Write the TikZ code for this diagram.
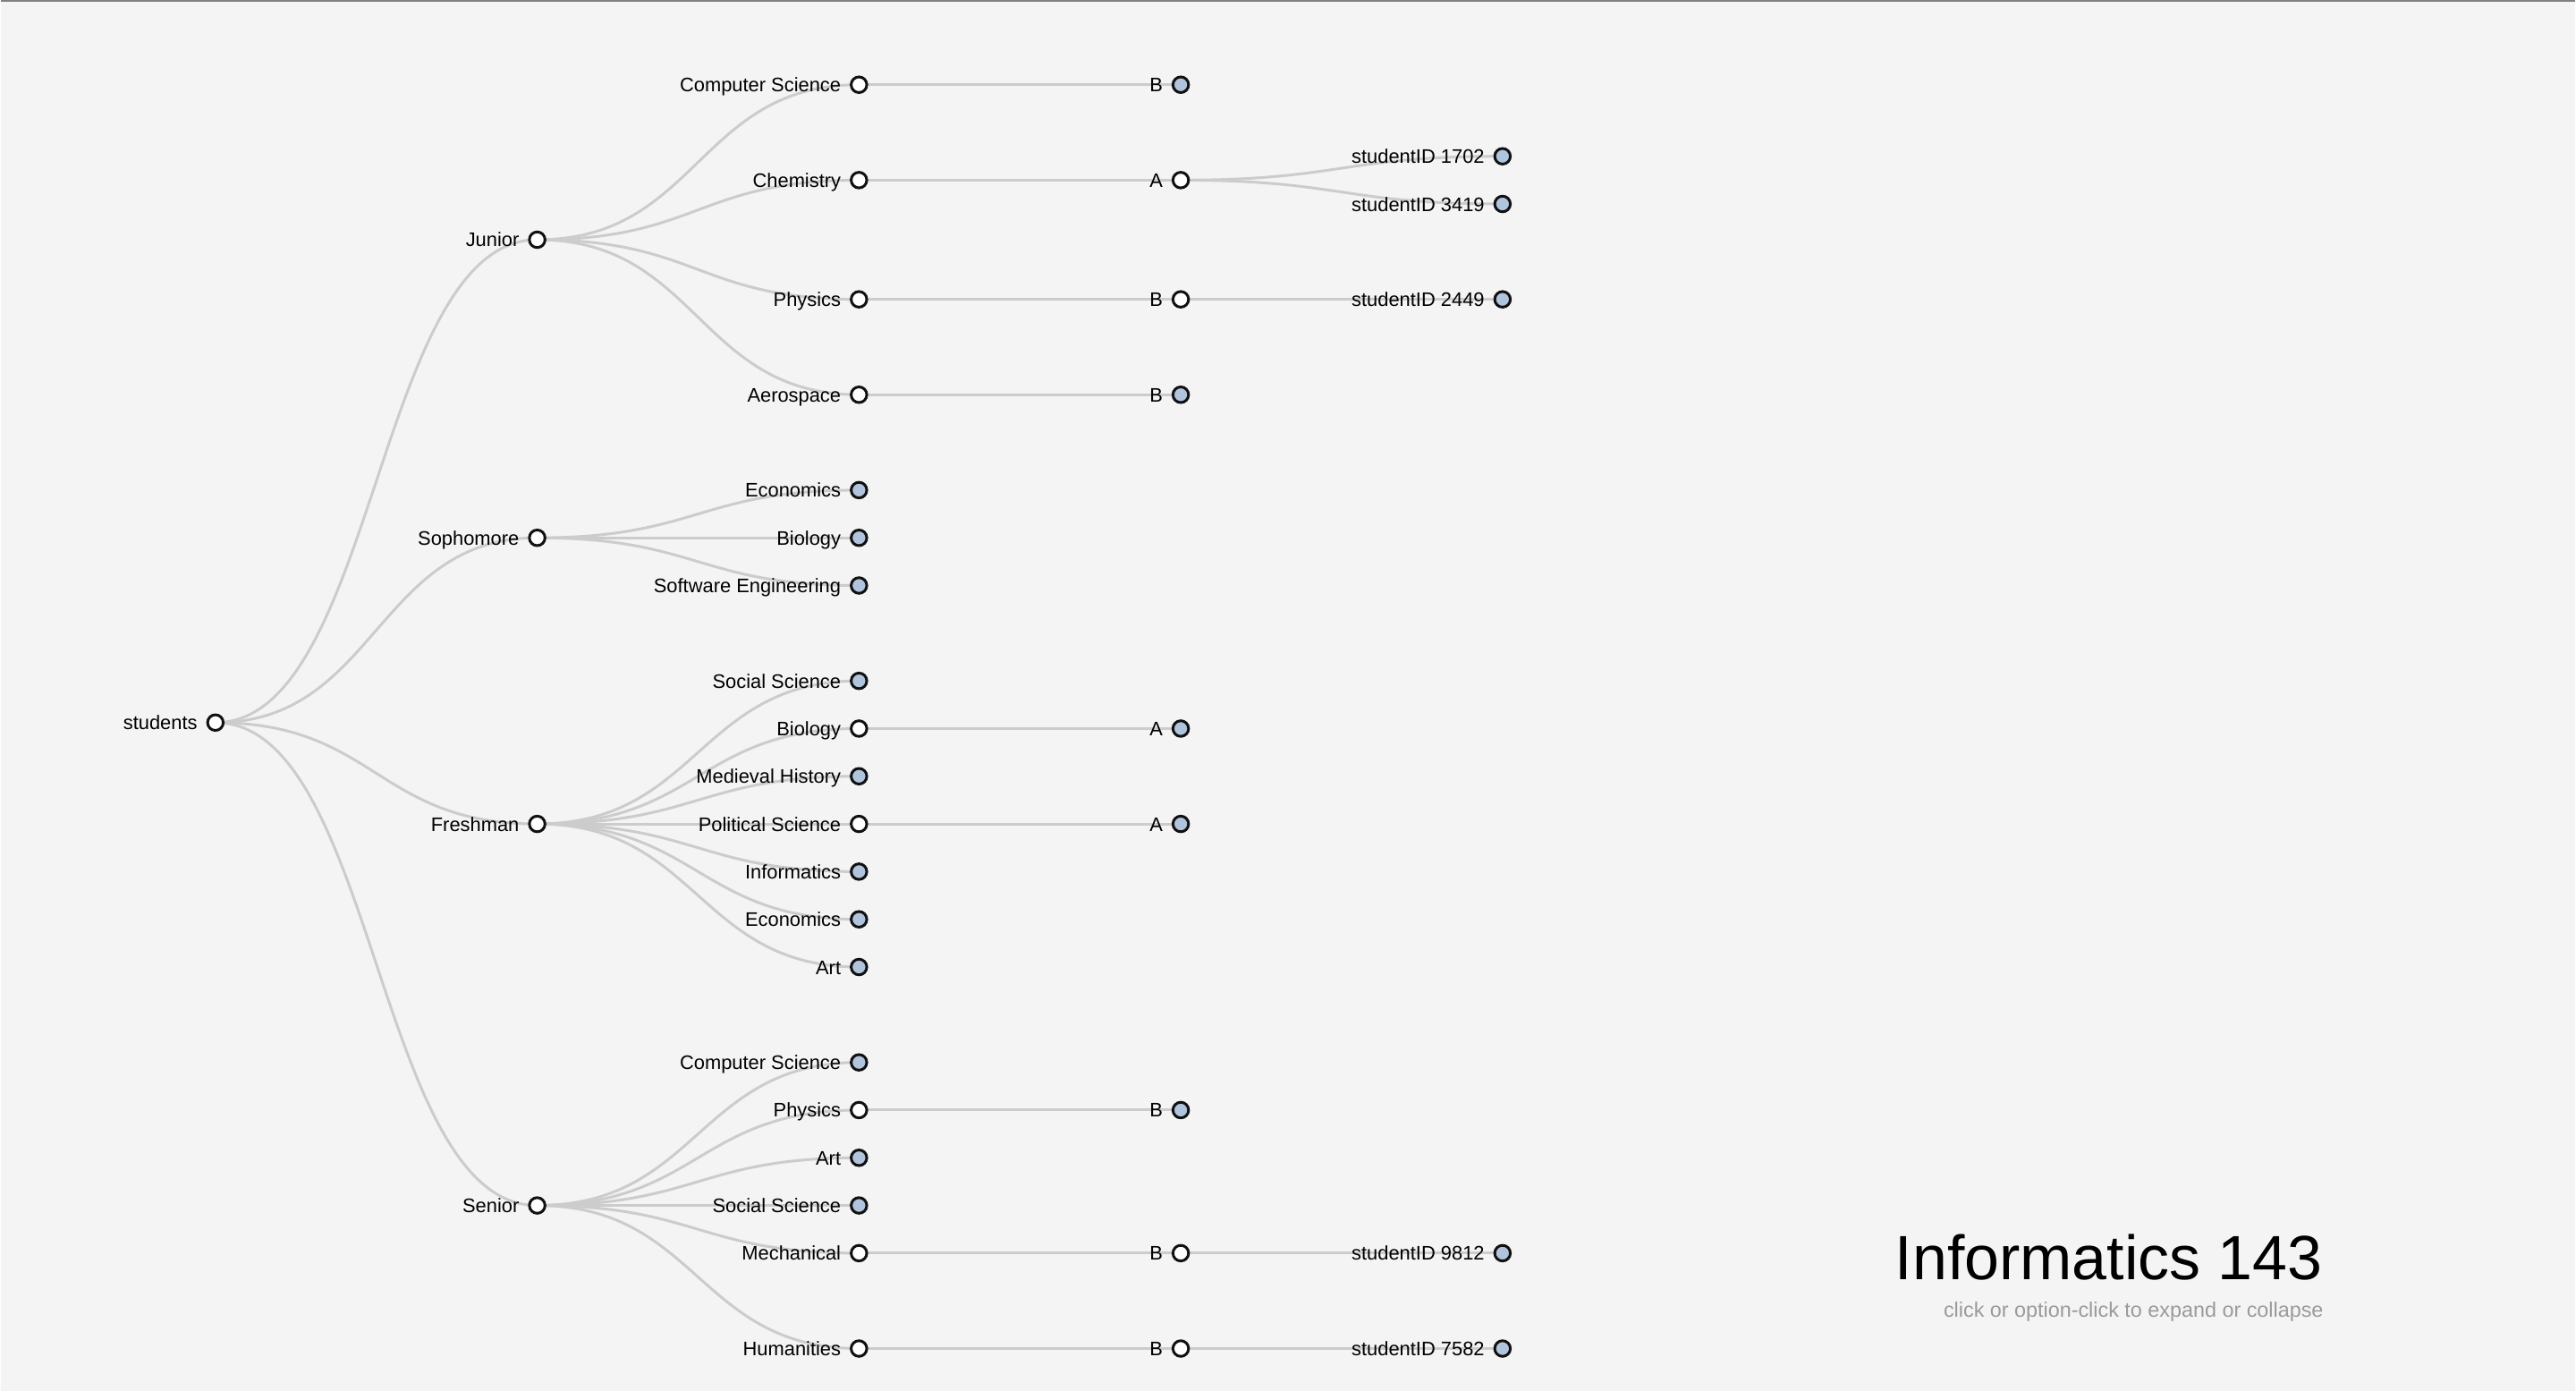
\documentclass[tikz,border=0pt]{standalone}
\usepackage{fontspec}
\setmainfont{Liberation Sans}
\usetikzlibrary{positioning}
\definecolor{paper}{HTML}{F4F4F4}
\definecolor{linkgray}{HTML}{CCCCCC}
\definecolor{leafblue}{HTML}{B0C4DE}
\definecolor{ringline}{HTML}{111111}
\definecolor{hintgray}{HTML}{9A9A9A}
\pgfdeclarelayer{back}
\pgfdeclarelayer{edges}
\pgfsetlayers{back,edges,main}
\tikzset{
  nd/.style={circle,draw=ringline,fill=white,line width=0.03cm,minimum size=0.175cm,inner sep=0},
  leaf/.style={nd,fill=leafblue},
  lbl/.style={inner sep=0,outer sep=0,text height=0.2cm,text depth=0.04cm,font=\fontsize{6.23}{7}\selectfont},
  link/.style={draw=linkgray,line width=0.03cm},
  title/.style={inner sep=0,anchor=base east,font=\fontsize{19.9}{22}\selectfont},
  hint/.style={inner sep=0,anchor=base east,text=hintgray,font=\fontsize{6.65}{8}\selectfont}
}

\begin{document}
\begin{tikzpicture}[x=3.6cm,y=-0.5335cm]
    \begin{pgfonlayer}{back}
      \fill[paper] (-2.4cm,0.948cm) rectangle (26.4cm,-14.612cm);
      \draw[gray,line width=0.02cm] (-2.4cm,0.938cm) -- (26.4cm,0.938cm);
    \end{pgfonlayer}

    % tree nodes: name/column/row/text/style
    \foreach \name/\col/\row/\txt/\kind in {
        stu/0/13.375/students/nd,
        jun/1/3.25/Junior/nd, soph/1/9.5/Sophomore/nd, fresh/1/15.5/Freshman/nd, sen/1/23.5/Senior/nd,
        jcs/2/0/Computer Science/nd, jch/2/2/Chemistry/nd, jph/2/4.5/Physics/nd, jae/2/6.5/Aerospace/nd,
        sec/2/8.5/Economics/leaf, sbi/2/9.5/Biology/leaf, sse/2/10.5/Software Engineering/leaf,
        fso/2/12.5/Social Science/leaf, fbi/2/13.5/Biology/nd, fmh/2/14.5/Medieval History/leaf,
        fps/2/15.5/Political Science/nd, fin/2/16.5/Informatics/leaf, fec/2/17.5/Economics/leaf,
        fart/2/18.5/Art/leaf,
        xcs/2/20.5/Computer Science/leaf, xph/2/21.5/Physics/nd, xart/2/22.5/Art/leaf,
        xso/2/23.5/Social Science/leaf, xme/2/24.5/Mechanical/nd, xhu/2/26.5/Humanities/nd,
        jcsg/3/0/B/leaf, jchg/3/2/A/nd, jphg/3/4.5/B/nd, jaeg/3/6.5/B/leaf,
        fbig/3/13.5/A/leaf, fpsg/3/15.5/A/leaf,
        xphg/3/21.5/B/leaf, xmeg/3/24.5/B/nd, xhug/3/26.5/B/nd,
        id1702/4/1.5/studentID 1702/leaf, id3419/4/2.5/studentID 3419/leaf,
        id2449/4/4.5/studentID 2449/leaf, id9812/4/24.5/studentID 9812/leaf,
        id7582/4/26.5/studentID 7582/leaf}
    {
      \node[\kind] (\name) at (\col,\row) {};
      \node[lbl,left=0.1cm of \name] (\name-t) {\txt};
    }

    % links, drawn under the circles and the texts
    \begin{pgfonlayer}{edges}
      \foreach \a/\b in {stu/jun, stu/soph, stu/fresh, stu/sen,
          jun/jcs, jun/jch, jun/jph, jun/jae,
          soph/sec, soph/sbi, soph/sse,
          fresh/fso, fresh/fbi, fresh/fmh, fresh/fps, fresh/fin, fresh/fec, fresh/fart,
          sen/xcs, sen/xph, sen/xart, sen/xso, sen/xme, sen/xhu,
          jcs/jcsg, jch/jchg, jph/jphg, jae/jaeg,
          fbi/fbig, fps/fpsg, xph/xphg, xme/xmeg, xhu/xhug,
          jchg/id1702, jchg/id3419, jphg/id2449, xmeg/id9812, xhug/id7582}
        \draw[link] (\a.center) .. controls +(.5,0) and +(-.5,0) .. (\b.center);
    \end{pgfonlayer}

    \node[title] (head) at (23.58cm,-13.369cm) {Informatics 143};
    \node[hint] (sub) at (23.59cm,-13.785cm) {click or option-click to expand or collapse};
\end{tikzpicture}
\end{document}
